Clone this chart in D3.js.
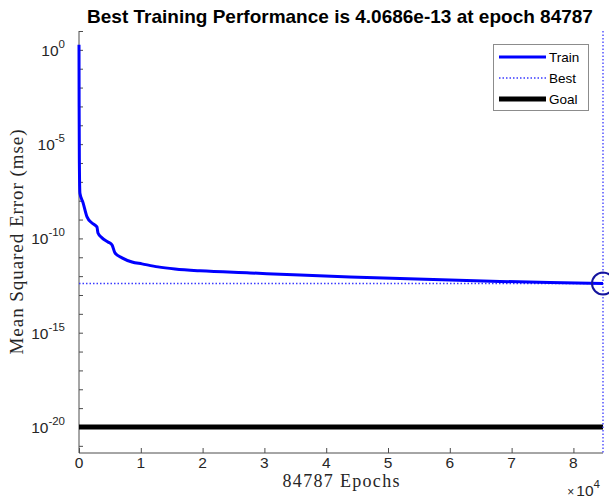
<!DOCTYPE html>
<html>
<head>
<meta charset="utf-8">
<script src="https://cdn.jsdelivr.net/npm/d3@7"></script>
<style>
  html, body { margin: 0; padding: 0; background: #fff; }
  svg { display: block; }
</style>
</head>
<body>
<svg id="chart" width="609" height="499"></svg>
<script>
// Training record: epoch and mean squared error
const trainEpochs = [0, 20, 60, 150, 650, 1300, 2100, 2900, 3070, 3720, 4690, 5340, 5820, 6960, 8580, 10190, 12780, 15530, 19580, 27670, 35760, 43850, 51940, 60030, 68120, 76210, 84787];
const trainLogMse = [0.27, -3.0, -6.0, -7.6, -8.1, -8.86, -9.18, -9.39, -9.71, -9.97, -10.19, -10.34, -10.77, -11.03, -11.25, -11.35, -11.51, -11.62, -11.72, -11.83, -11.94, -12.04, -12.12, -12.2, -12.28, -12.34, -12.3906];
const trainMse = trainLogMse.map(v => Math.pow(10, v));

const bestEpoch = 84787;
const bestPerf = 4.0686e-13;
const goalPerf = 1e-20;

const xTickValues = [0, 10000, 20000, 30000, 40000, 50000, 60000, 70000, 80000];
const yMajorExponents = [0, -5, -10, -15, -20];
const yMinorExponents = d3.range(1, -22, -1);
const legendLabels = ["Train", "Best", "Goal"];

const svg = d3.select("#chart");
const plotLeft = 79, plotRight = 603, plotTop = 31, plotBottom = 453;

const x = d3.scaleLinear().domain([0, bestEpoch]).range([plotLeft, plotRight]);
const y = d3.scaleLog().domain([Math.pow(10, -21.38), 10]).range([plotBottom, plotTop]);

const axisColor = "#4d4d4d";
const textColor = "#262626";
const sans = "Liberation Sans, Arial, sans-serif";
const serif = "Liberation Serif, Times New Roman, serif";
const bestColor = "#3a3aff";

// Title
svg.append("text")
  .attr("x", 340).attr("y", 23)
  .attr("text-anchor", "middle")
  .attr("font-family", sans)
  .attr("font-weight", "bold").attr("font-size", 19)
  .attr("fill", "#000")
  .text(`Best Training Performance is ${bestPerf.toExponential(4)} at epoch ${bestEpoch}`);

// Axis lines
svg.append("line").attr("x1", plotLeft).attr("x2", plotLeft).attr("y1", plotTop).attr("y2", plotBottom)
  .attr("stroke", axisColor).attr("stroke-width", 1);
svg.append("line").attr("x1", plotLeft).attr("x2", plotRight).attr("y1", plotBottom).attr("y2", plotBottom)
  .attr("stroke", axisColor).attr("stroke-width", 1);

// Y ticks (one per decade, pointing inward)
const yAxis = d3.axisRight(y)
  .tickValues(yMinorExponents.map(e => Math.pow(10, e)))
  .tickSize(4).tickFormat("");
const gy = svg.append("g").attr("transform", `translate(${plotLeft},0)`).call(yAxis);
gy.select(".domain").remove();
gy.selectAll(".tick line").attr("stroke", axisColor);

// Y tick labels: 10 with superscript exponent
const yLab = svg.append("g").attr("font-family", sans).attr("fill", textColor);
yMajorExponents.forEach(e => {
  const t = yLab.append("text")
    .attr("x", plotLeft - 14).attr("y", y(Math.pow(10, e)) + 6)
    .attr("text-anchor", "end").attr("font-size", 15.5);
  t.append("tspan").text("10");
  t.append("tspan").attr("dy", -8).attr("font-size", 11.5).text(String(e));
});

// X ticks (pointing inward) and labels
const xAxis = d3.axisTop(x).tickValues(xTickValues).tickSize(5).tickFormat("");
const gx = svg.append("g").attr("transform", `translate(0,${plotBottom})`).call(xAxis);
gx.select(".domain").remove();
gx.selectAll(".tick line").attr("stroke", axisColor);
svg.append("g")
  .selectAll("text").data(xTickValues).join("text")
  .attr("x", d => x(d)).attr("y", plotBottom + 15)
  .attr("text-anchor", "middle")
  .attr("font-family", sans)
  .attr("font-size", 15.5).attr("fill", textColor)
  .text(d => d / 10000);

// Exponent multiplier
const mult = svg.append("text")
  .attr("x", 600).attr("y", 496).attr("text-anchor", "end")
  .attr("font-family", sans)
  .attr("fill", textColor).attr("font-size", 15.5);
mult.append("tspan").attr("font-size", 12).text("\u00d7");
mult.append("tspan").attr("dx", 2).text("10");
mult.append("tspan").attr("dy", -8).attr("font-size", 11.5).text("4");

// Axis labels (serif)
svg.append("text")
  .attr("x", (plotLeft + plotRight) / 2).attr("y", 487)
  .attr("text-anchor", "middle")
  .attr("font-family", serif)
  .attr("font-size", 18).attr("fill", textColor)
  .attr("textLength", 117).attr("lengthAdjust", "spacing")
  .text(`${bestEpoch} Epochs`);
svg.append("text")
  .attr("transform", `translate(23,${(plotTop + plotBottom) / 2}) rotate(-90)`)
  .attr("text-anchor", "middle")
  .attr("font-family", serif)
  .attr("font-size", 19).attr("fill", textColor)
  .attr("textLength", 225).attr("lengthAdjust", "spacing")
  .text("Mean Squared Error (mse)");

// Goal line
svg.append("line")
  .attr("x1", x(0)).attr("x2", x(bestEpoch))
  .attr("y1", y(goalPerf)).attr("y2", y(goalPerf))
  .attr("stroke", "#000").attr("stroke-width", 5);

// Best level and epoch markers
svg.append("line")
  .attr("x1", x(0)).attr("x2", x(bestEpoch))
  .attr("y1", y(bestPerf)).attr("y2", y(bestPerf))
  .attr("stroke", bestColor).attr("stroke-width", 1.3).attr("stroke-dasharray", "1.5,2");
svg.append("line")
  .attr("x1", x(bestEpoch)).attr("x2", x(bestEpoch))
  .attr("y1", plotTop).attr("y2", plotBottom)
  .attr("stroke", bestColor).attr("stroke-width", 1.3).attr("stroke-dasharray", "1.5,2");

// Training curve
const line = d3.line().x((d, i) => x(trainEpochs[i])).y(d => y(d)).curve(d3.curveMonotoneX);
svg.append("path")
  .datum(trainMse)
  .attr("d", line)
  .attr("fill", "none").attr("stroke", "#0000ff")
  .attr("stroke-width", 3).attr("stroke-linejoin", "round");

// Best point marker
svg.append("circle")
  .attr("cx", x(bestEpoch)).attr("cy", y(bestPerf)).attr("r", 11)
  .attr("fill", "none").attr("stroke", "#14149e").attr("stroke-width", 2);

// Legend
const lg = svg.append("g");
lg.append("rect").attr("x", 493.5).attr("y", 44.5).attr("width", 95).attr("height", 66)
  .attr("fill", "#fff").attr("stroke", "#8c8c8c").attr("stroke-width", 1);
const legendStyles = [
  { stroke: "#0000ff", width: 3, dash: null },
  { stroke: bestColor, width: 1.3, dash: "1.5,2" },
  { stroke: "#000", width: 5, dash: null }
];
legendLabels.forEach((lbl, i) => {
  const ly = 57 + i * 21;
  const s = legendStyles[i];
  lg.append("line").attr("x1", 499).attr("x2", 546).attr("y1", ly).attr("y2", ly)
    .attr("stroke", s.stroke).attr("stroke-width", s.width)
    .attr("stroke-dasharray", s.dash);
  lg.append("text").attr("x", 549).attr("y", ly + 5)
    .attr("font-family", sans)
    .attr("font-size", 13.5).attr("fill", "#000").text(lbl);
});
</script>
</body>
</html>
